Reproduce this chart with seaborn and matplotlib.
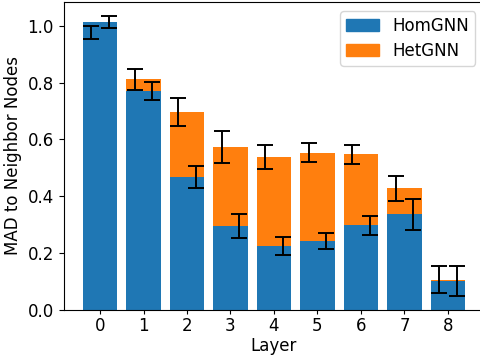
import matplotlib
matplotlib.use("Agg")
import matplotlib.pyplot as plt
import seaborn as sns
import pandas as pd
import numpy as np
from matplotlib.patches import Patch

layers = [0, 1, 2, 3, 4, 5, 6, 7, 8]
hom_mean = [1.013, 0.771, 0.467, 0.295, 0.224, 0.242, 0.297, 0.336, 0.100]
hom_err = [0.020, 0.032, 0.040, 0.043, 0.032, 0.027, 0.034, 0.054, 0.053]
het_mean = [0.977, 0.811, 0.697, 0.573, 0.538, 0.553, 0.547, 0.428, 0.106]
het_err = [0.023, 0.036, 0.049, 0.058, 0.043, 0.033, 0.034, 0.044, 0.047]

blue = "#1f77b4"
orange = "#ff7f0e"

df = pd.DataFrame({"Layer": layers, "HomGNN": hom_mean, "HetGNN": het_mean})

fig = plt.figure(figsize=(4.8, 3.56), dpi=100)
ax = fig.add_axes([0.1323, 0.130, 0.877, 0.864])

sns.barplot(data=df, x="Layer", y="HetGNN", color=orange, errorbar=None,
            width=0.8, saturation=1, ax=ax)
sns.barplot(data=df, x="Layer", y="HomGNN", color=blue, errorbar=None,
            width=0.8, saturation=1, ax=ax)

pos = np.arange(len(layers))
ax.errorbar(pos - 0.2, het_mean, yerr=het_err, fmt="none", ecolor="black",
            capsize=5.5, elinewidth=1.4, capthick=1.4)
ax.errorbar(pos + 0.2, hom_mean, yerr=hom_err, fmt="none", ecolor="black",
            capsize=5.5, elinewidth=1.4, capthick=1.4)

ax.set_xlim(-0.84, 8.84)
ax.set_ylim(0, 1.083)
ax.set_xticks(pos)
ax.set_xticklabels([str(l) for l in layers])
ax.set_yticks([0.0, 0.2, 0.4, 0.6, 0.8, 1.0])
ax.tick_params(labelsize=12)
ax.tick_params(axis="x", length=3, pad=2.5)
ax.set_xlabel("Layer", fontsize=12, labelpad=1.5)
ax.set_ylabel("MAD to Neighbor Nodes", fontsize=12)

handles = [Patch(color=blue, label="HomGNN"), Patch(color=orange, label="HetGNN")]
ax.legend(handles=handles, loc="upper right", fontsize=12,
          borderpad=0.35, labelspacing=0.4, borderaxespad=0.55)

fig.savefig("out.png", dpi=100)
